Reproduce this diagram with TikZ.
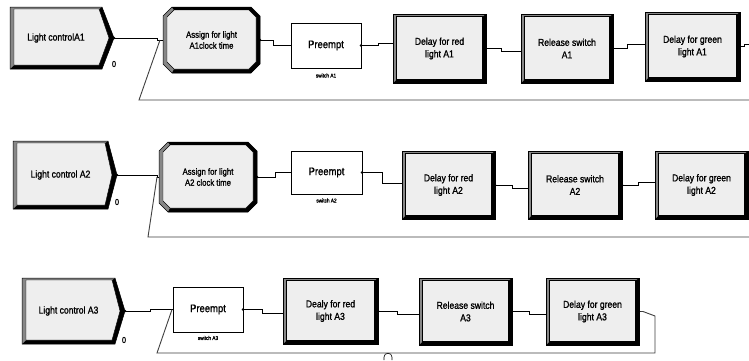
\documentclass[tikz,border=0pt]{standalone}
\usepackage{fontspec}
\setmainfont{Liberation Sans}[FakeStretch=0.86,FakeBold=1.2]
\definecolor{boxfill}{RGB}{238,238,238}
\definecolor{bevel}{RGB}{135,135,135}
\tikzset{
  lbl/.style={inner sep=0pt, outer sep=0pt, align=center, font=\fontsize{10}{12.5}\selectfont},
  asl/.style={inner sep=0pt, outer sep=0pt, align=center, font=\fontsize{9}{11}\selectfont},
  conn/.style={line width=0.9pt, black},
  loopline/.style={line width=0.9pt, black!75},
  exitdot/.style={fill=black},
  zero/.style={font=\fontsize{8.5}{9}\selectfont, inner sep=0pt},
  tag/.style={font=\fontsize{5.5}{6}\selectfont, inner sep=0pt},
  prebox/.style={draw, line width=1pt, fill=white, inner sep=0pt, outer sep=0pt, font=\fontsize{11}{13}\selectfont},
}
% create module: name, x0, y0, xb, xp, y1, text
\newcommand\createmod[7]{%
  \fill[black] (#2,#3) -- (#4,#3) -- (#5,{(#3+#6)/2}) -- (#4,#6) -- (#2,#6) -- cycle;
  \fill[bevel] (#2,#3) -- (#4,#3) -- ({#4-3},{#3+2}) -- ({#2+4},{#3+2}) -- ({#2+4},{#6-4}) -- (#2,#6) -- cycle;
  \filldraw[fill=boxfill, draw=black, line width=0.4pt] ({#2+4},{#3+2}) -- ({#4-3},{#3+2}) -- ({#5-5},{(#3+#6)/2}) -- ({#4-3},{#6-4}) -- ({#2+4},{#6-4}) -- cycle;
  \draw[line width=0.5pt] (#2,#3) -- (#4,#3) -- (#5,{(#3+#6)/2}) -- (#4,#6) -- (#2,#6) -- cycle;
  \node[lbl, minimum width={(#4-#2)*1pt}, minimum height={(#6-#3)*1pt}] (#1) at ({(#2+#4)/2},{(#3+#6)/2}) {#7};
}
% assign module (octagon): name, x0, y0, x1, y1, text
\newcommand\assignmod[6]{%
  \fill[bevel] ({#2+9},{#3}) -- ({#4-9},{#3}) -- ({#4},{#3+9}) -- ({#4},{#5-9}) -- ({#4-9},{#5}) -- ({#2+9},{#5}) -- ({#2},{#5-9}) -- ({#2},{#3+9}) -- cycle;
  \fill[black] ({#2+9},{#3}) -- ({#4-9},{#3}) -- ({#4},{#3+9}) -- ({#4},{#5-9}) -- ({#4-9},{#5}) -- ({#2+9},{#5})
     -- ({#2+11},{#5-4}) -- ({#4-11},{#5-4}) -- ({#4-4},{#5-11}) -- ({#4-4},{#3+10}) -- ({#4-11},{#3+3}) -- ({#2+11},{#3+3}) -- cycle;
  \filldraw[fill=boxfill, draw=black, line width=0.4pt] ({#2+11},{#3+3}) -- ({#4-11},{#3+3}) -- ({#4-4},{#3+10}) -- ({#4-4},{#5-11}) -- ({#4-11},{#5-4}) -- ({#2+11},{#5-4}) -- ({#2+4},{#5-11}) -- ({#2+4},{#3+10}) -- cycle;
  \draw[line width=0.5pt] ({#2+9},{#3}) -- ({#4-9},{#3}) -- ({#4},{#3+9}) -- ({#4},{#5-9}) -- ({#4-9},{#5}) -- ({#2+9},{#5}) -- ({#2},{#5-9}) -- ({#2},{#3+9}) -- cycle;
  \node[asl, minimum width={(#4-#2)*1pt}, minimum height={(#5-#3)*1pt}] (#1) at ({(#2+#4)/2},{(#3+#5)/2}) {#6};
}
% process module: name, x0, y0, x1, y1, text
\newcommand\procmod[6]{%
  \fill[black] (#2,#3) rectangle (#4,#5);
  \fill[bevel] (#2,#3) -- (#4,#3) -- ({#4-3.5},{#3+2.5}) -- ({#2+3.5},{#3+2.5}) -- ({#2+3.5},{#5-3.5}) -- (#2,#5) -- cycle;
  \filldraw[fill=boxfill, draw=black, line width=0.4pt] ({#2+3.5},{#3+2.5}) rectangle ({#4-3.5},{#5-3.5});
  \draw[line width=0.5pt] (#2,#3) rectangle (#4,#5);
  \node[lbl, minimum width={(#4-#2)*1pt}, minimum height={(#5-#3)*1pt}] (#1) at ({(#2+#4)/2},{(#3+#5)/2}) {#6};
}
% preempt module: name, x0, y0, x1, y1, tag text, tag y
\newcommand\preemptmod[7]{%
  \node[prebox, minimum width={(#4-#2)*1pt}, minimum height={(#5-#3)*1pt}] (#1) at ({(#2+#4)/2},{(#3+#5)/2}) {Preempt};
  \node[tag] (#1t) at ({(#2+#4)/2},#7) {#6};
}
\begin{document}
\begin{tikzpicture}[x=1pt, y=-1pt]
\useasboundingbox (0,0) rectangle (749,360);
\fill[white] (0,0) rectangle (749,360);

% ---------------- Row 1 ----------------
\createmod{lc1}{10}{7}{102}{114}{69}{Light controlA1}
\node[zero] (z1) at (114,64) {0};
\assignmod{as1}{163}{7}{260}{73}{Assign for light\\A1clock time}
\preemptmod{pr1}{291}{23}{361}{68}{switch A1}{75.5}
\procmod{dr1}{393}{14}{486}{83}{Delay for red\\light A1}
\procmod{rs1}{521}{14}{613}{83}{Release switch\\A1}
\procmod{dg1}{645}{12}{740}{81}{Delay for green\\light A1}
\coordinate (r1a) at (139,100);
\coordinate (r1b) at (749,100);
\coordinate (x1) at (749,44);

\draw[conn] ([xshift=12pt]lc1.east) -- ++(43,0) |- (as1.west);
\draw[loopline] ([xshift=-3pt]as1.west) -- (r1a) -- (r1b);
\draw[conn] (as1.east) -- ++(13,0) |- (pr1.west);
\draw[conn] (pr1.east) -- ++(17,0) |- ([yshift=5pt]dr1.west);
\draw[conn] (dr1.east) -- ++(15,0) |- ([yshift=-3pt]rs1.west);
\draw[conn] (rs1.east) -- ++(14,0) |- ([yshift=2pt]dg1.west);
\draw[conn] (dg1.east) -- ++(4,0) |- (x1);
\foreach \n in {as1,pr1,dr1,rs1,dg1} \fill[exitdot] (\n.east) circle (1.4);
\fill[exitdot] ([xshift=12pt]lc1.east) circle (1.4);

% ---------------- Row 2 ----------------
\createmod{lc2}{13}{141}{108}{117}{209}{Light control A2}
\node[zero] (z2) at (117,202) {0};
\assignmod{as2}{159}{142}{257}{212}{Assign for light\\A2 clock time}
\preemptmod{pr2}{291}{151}{362}{194}{switch A2}{200.5}
\procmod{dr2}{402}{151}{495}{219}{Delay for red\\light A2}
\procmod{rs2}{528}{151}{622}{219}{Release switch\\A2}
\procmod{dg2}{655}{151}{748}{219}{Delay for green\\light A2}
\coordinate (r2a) at (148,237);
\coordinate (r2b) at (749,237);

\draw[conn] ([xshift=9pt]lc2.east) -- ++(40,0) |- (as2.west);
\draw[loopline] ([xshift=-2pt]as2.west) -- (r2a) -- (r2b);
\draw[conn] (as2.east) -- ++(18,0) |- (pr2.west);
\draw[conn] (pr2.east) -- ++(20,0) |- ([yshift=2pt]dr2.west);
\draw[conn] (dr2.east) -- ++(17,0) |- ([yshift=-3pt]rs2.west);
\draw[conn] (rs2.east) -- ++(16,0) |- ([yshift=3pt]dg2.west);
\foreach \n in {as2,pr2,dr2,rs2} \fill[exitdot] (\n.east) circle (1.4);
\fill[exitdot] ([xshift=9pt]lc2.east) circle (1.4);

% ---------------- Row 3 ----------------
\createmod{lc3}{22}{278}{115}{125}{344}{Light control A3}
\node[zero] (z3) at (124,340) {0};
\preemptmod{pr3}{173}{287}{243}{332}{switch A3}{338}
\procmod{dd3}{283}{278}{378}{344}{Dealy for red\\light A3}
\procmod{rs3}{419}{278}{512}{345}{Release switch\\A3}
\procmod{dg3}{546}{278}{639}{345}{Delay for green\\light A3}
\coordinate (r3a) at (655,316);
\coordinate (r3b) at (655,353);
\coordinate (r3c) at (157,353);

\draw[conn] ([xshift=10pt]lc3.east) -- ++(25,0) |- (pr3.west);
\draw[conn] (pr3.east) -- ++(19,0) |- ([yshift=-2pt]dd3.west);
\draw[conn] (dd3.east) -- ++(19,0) |- ([yshift=-3pt]rs3.west);
\draw[conn] (rs3.east) -- ++(17,0) |- ([yshift=-3pt]dg3.west);
\draw[loopline] (dg3.east) -- ++(4,0) -- (r3a) -- (r3b) -- (r3c) -- ([xshift=-1pt]pr3.west);
\foreach \n in {pr3,dd3,rs3,dg3} \fill[exitdot] (\n.east) circle (1.4);
\fill[exitdot] ([xshift=10pt]lc3.east) circle (1.4);
\draw[line width=0.6pt] (384,360) -- (384,357) .. controls (384,352) and (392,352) .. (392,357) -- (392,360);
\end{tikzpicture}
\end{document}
